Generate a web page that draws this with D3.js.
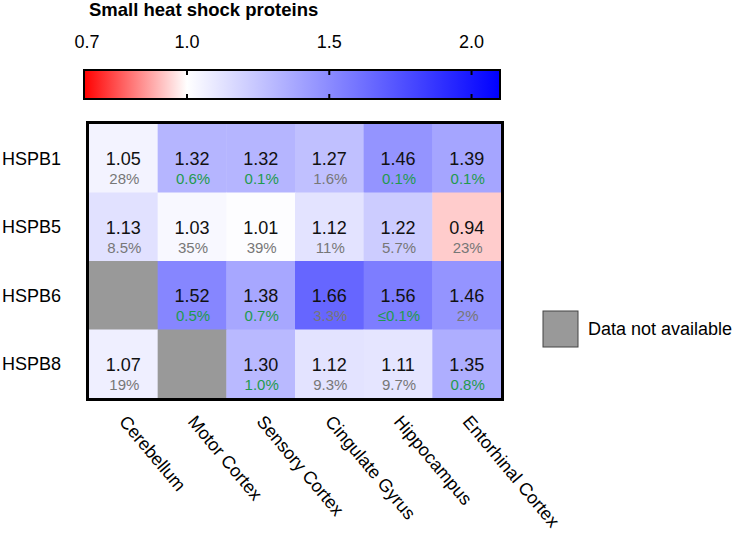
<!DOCTYPE html>
<html>
<head>
<meta charset="utf-8">
<script src="https://cdn.jsdelivr.net/npm/d3@7"></script>
<style>
  body { margin: 0; background: #fff; }
  svg { display: block; font-family: "Liberation Sans", Arial, sans-serif; }
</style>
</head>
<body>
<svg width="739" height="536"></svg>
<script>
// brain regions (columns) and proteins (rows)
const regions = ["Cerebellum", "Motor Cortex", "Sensory Cortex", "Cingulate Gyrus", "Hippocampus", "Entorhinal Cortex"];
const proteins = ["HSPB1", "HSPB5", "HSPB6", "HSPB8"];

// fold change, null = data not available
const hspb1 = [1.05, 1.32, 1.32, 1.27, 1.46, 1.39];
const hspb5 = [1.13, 1.03, 1.01, 1.12, 1.22, 0.94];
const hspb6 = [null, 1.52, 1.38, 1.66, 1.56, 1.46];
const hspb8 = [1.07, null, 1.30, 1.12, 1.11, 1.35];

// FDR labels under each value
const fdr1 = ["28%", "0.6%", "0.1%", "1.6%", "0.1%", "0.1%"];
const fdr5 = ["8.5%", "35%", "39%", "11%", "5.7%", "23%"];
const fdr6 = [null, "0.5%", "0.7%", "3.3%", "≤0.1%", "2%"];
const fdr8 = ["19%", null, "1.0%", "9.3%", "9.7%", "0.8%"];

const legendTicks = [0.7, 1.0, 1.5, 2.0];

const values = [hspb1, hspb5, hspb6, hspb8];
const fdrs = [fdr1, fdr5, fdr6, fdr8];

let cells = [];
proteins.forEach((p, r) => {
  regions.forEach((reg, c) => {
    cells.push({protein: p, region: reg, value: values[r][c], fdr: fdrs[r][c]});
  });
});

const svg = d3.select("svg");

const color = d3.scaleLinear()
  .domain([0.7, 1.0, 2.1])
  .range(["#ff0000", "#ffffff", "#0000ff"]);

// ---- colour legend ----
const barX = d3.scaleLinear().domain([0.7, 1.0, 2.1]).range([84, 187, 500]);
const barTop = 70, barH = 29;

svg.append("text")
  .attr("x", 89)
  .attr("y", 16)
  .attr("font-size", 18.5)
  .attr("font-weight", "bold")
  .text("Small heat shock proteins");

const grad = svg.append("defs").append("linearGradient")
  .attr("id", "grad")
  .attr("x1", "0%").attr("x2", "100%");
grad.selectAll("stop")
  .data(barX.domain())
  .enter().append("stop")
  .attr("offset", d => ((barX(d) - 84) / (500 - 84) * 100) + "%")
  .attr("stop-color", d => color(d));

svg.append("rect")
  .attr("x", barX(0.7))
  .attr("y", barTop)
  .attr("width", barX(2.1) - barX(0.7))
  .attr("height", barH)
  .attr("fill", "url(#grad)")
  .attr("stroke", "#000")
  .attr("stroke-width", 2);

const tickG = svg.append("g");
legendTicks.filter(d => d > 0.7).forEach(d => {
  tickG.append("line")
    .attr("x1", barX(d)).attr("x2", barX(d))
    .attr("y1", barTop).attr("y2", barTop + 5)
    .attr("stroke", "#000").attr("stroke-width", 2);
  tickG.append("line")
    .attr("x1", barX(d)).attr("x2", barX(d))
    .attr("y1", barTop + barH - 5).attr("y2", barTop + barH)
    .attr("stroke", "#000").attr("stroke-width", 2);
});

svg.append("g").selectAll("text")
  .data(legendTicks)
  .enter().append("text")
  .attr("x", d => barX(d) + (d === 0.7 ? 3 : 0))
  .attr("y", 48)
  .attr("text-anchor", "middle")
  .attr("font-size", 18)
  .text(d => d.toFixed(1));

// ---- heatmap ----
const x = d3.scaleBand().domain(regions).range([89, 501]);
const y = d3.scaleBand().domain(proteins).range([124, 398]);

const g = svg.append("g");

g.selectAll("rect.cell")
  .data(cells)
  .enter().append("rect")
  .attr("class", "cell")
  .attr("x", d => x(d.region))
  .attr("y", d => y(d.protein))
  .attr("width", x.bandwidth() + 0.5)
  .attr("height", y.bandwidth() + 0.5)
  .attr("fill", d => d.value == null ? "#999999" : color(d.value));

const withData = cells.filter(d => d.value != null);

g.selectAll("text.val")
  .data(withData)
  .enter().append("text")
  .attr("class", "val")
  .attr("x", d => x(d.region) + x.bandwidth() / 2)
  .attr("y", d => y(d.protein) + y.bandwidth() / 2 + 7)
  .attr("text-anchor", "middle")
  .attr("font-size", 18)
  .attr("fill", "#111")
  .text(d => d.value.toFixed(2));

g.selectAll("text.fdr")
  .data(withData)
  .enter().append("text")
  .attr("class", "fdr")
  .attr("x", d => x(d.region) + x.bandwidth() / 2 + 1)
  .attr("y", d => y(d.protein) + y.bandwidth() / 2 + 26)
  .attr("text-anchor", "middle")
  .attr("font-size", 15)
  .attr("fill", d => parseFloat(d.fdr.replace("≤", "")) <= 1 ? "#1f9a4e" : "#777777")
  .text(d => d.fdr);

// frame
svg.append("rect")
  .attr("x", 87.5)
  .attr("y", 122.5)
  .attr("width", 501 - 89 + 3)
  .attr("height", 398 - 124 + 3)
  .attr("fill", "none")
  .attr("stroke", "#000")
  .attr("stroke-width", 3);

// row labels
svg.append("g").selectAll("text")
  .data(proteins)
  .enter().append("text")
  .attr("x", 61)
  .attr("y", d => y(d) + y.bandwidth() / 2)
  .attr("dy", "0.36em")
  .attr("text-anchor", "end")
  .attr("font-size", 18)
  .text(d => d);

// column labels, rotated
svg.append("g").selectAll("text")
  .data(regions)
  .enter().append("text")
  .attr("transform", d => "translate(" + (x(d) + x.bandwidth() / 2 - 5) + ",422) rotate(50)")
  .attr("font-size", 18)
  .text(d => d);

// missing-data legend
svg.append("rect")
  .attr("x", 543)
  .attr("y", 311)
  .attr("width", 35)
  .attr("height", 36)
  .attr("fill", "#999999")
  .attr("stroke", "#444")
  .attr("stroke-width", 1);

svg.append("text")
  .attr("x", 588)
  .attr("y", 335)
  .attr("font-size", 18)
  .text("Data not available");
</script>
</body>
</html>
